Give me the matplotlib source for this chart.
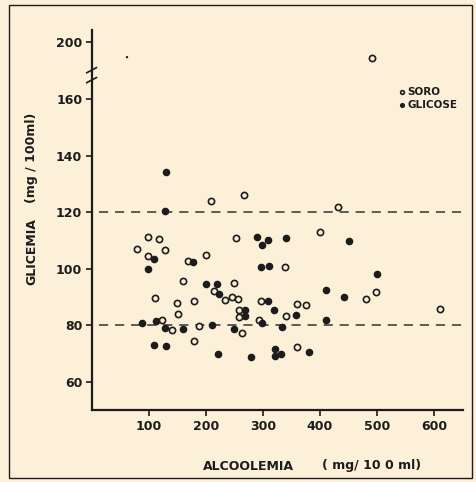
import numpy as np
import matplotlib
matplotlib.use("Agg")
import matplotlib.pyplot as plt
from matplotlib.patches import Rectangle
from matplotlib.lines import Line2D

# ---------------- data ----------------
soro_x = [208.8, 267.2, 98.8, 118.1, 79.5, 128.1, 98.8, 168.4, 199.5, 252.1,
          159.6, 249.6, 214.4, 232.8, 245.1, 255.6, 110.2, 148.6, 179.8, 296.8,
          258.4, 150.4, 258.4, 123.3, 139.5, 188.2, 262.8, 179.3, 293.0, 432.1,
          400.4, 339.1, 359.3, 375.1, 340.9, 359.1, 480.7, 499.1, 610.5, 491.2]
soro_y = [124.1, 126.0, 111.3, 110.5, 106.9, 106.5, 104.5, 102.9, 104.8, 111.0,
          95.6, 95.1, 92.1, 88.8, 89.9, 89.5, 89.6, 87.9, 88.5, 88.5,
          85.5, 83.9, 83.0, 81.8, 78.4, 79.8, 77.4, 74.5, 81.8, 122.0,
          112.9, 100.6, 87.7, 87.1, 83.3, 72.3, 89.5, 91.8, 85.7, 194.5]

glic_x = [130.7, 128.6, 109.3, 98.6, 176.8, 289.8, 299.1, 309.6, 296.0, 310.2,
          340.4, 451.4, 499.5, 199.5, 218.8, 222.8, 308.8, 319.6, 269.3, 268.4,
          111.8, 87.2, 128.4, 160.5, 210.5, 249.1, 298.2, 109.6, 129.8, 220.5,
          279.8, 321.2, 320.5, 332.5, 380.2, 411.4, 441.6, 358.2, 410.2, 332.6]
glic_y = [134.3, 120.5, 103.3, 100.0, 102.3, 111.3, 108.4, 110.2, 100.5, 100.9,
          111.0, 110.0, 98.3, 94.6, 94.7, 91.0, 88.6, 85.5, 85.6, 83.4,
          81.7, 80.7, 79.2, 78.8, 80.1, 78.8, 80.7, 73.0, 72.8, 69.8,
          68.8, 71.5, 69.1, 70.0, 70.5, 92.4, 89.9, 83.7, 81.8, 79.3]

speck_x = [61.4]
speck_y = [194.8]

ref_lines = [120, 80]
x_ticks = [100, 200, 300, 400, 500, 600]
y_ticks = [60, 80, 100, 120, 140, 160, 200]

# ---------------- broken y scale ----------------
def fwd(v):
    v = np.asarray(v, dtype=float)
    return np.where(v <= 160, v, np.where(v < 190, 160 + (v - 160) / 3.0, v - 20))

def inv(u):
    u = np.asarray(u, dtype=float)
    return np.where(u <= 160, u, np.where(u < 170, 160 + (u - 160) * 3.0, u + 20))

BG = "#FCF0D8"
INK = "#1c1c1c"

W, H = 476, 482
fig = plt.figure(figsize=(W / 100, H / 100), dpi=100, facecolor=BG)
ax = fig.add_axes([92 / W, 1 - 410 / H, (463 - 92) / W, (410 - 30) / H])
ax.set_facecolor(BG)
ax.set_yscale("function", functions=(fwd, inv))
ax.set_xlim(0, 651)
ax.set_ylim(50.1, 204.4)

for v in ref_lines:
    ax.plot([12, 651], [v, v], color="#333333", lw=1.1, dashes=(6, 4.5), zorder=1)

ax.scatter(soro_x, soro_y, s=20, facecolor=BG, edgecolor=INK, linewidth=1.2,
           zorder=3, label="SORO")
ax.scatter(glic_x, glic_y, s=20, facecolor=INK, edgecolor=INK, linewidth=1.0,
           zorder=3, label="GLICOSE")
ax.scatter(speck_x, speck_y, s=3, facecolor=INK, edgecolor="none", zorder=3)

for s in ["top", "right"]:
    ax.spines[s].set_visible(False)
for s in ["left", "bottom"]:
    ax.spines[s].set_linewidth(1.6)
    ax.spines[s].set_color(INK)

ax.set_xticks(x_ticks)
ax.set_xticklabels([str(t) for t in x_ticks])
ax.set_yticks(y_ticks)
ax.set_yticklabels([str(t) for t in y_ticks])
ax.tick_params(axis="both", direction="out", length=4, width=1.2, color=INK,
               labelsize=9, labelcolor=INK, pad=3)
for lab in ax.get_xticklabels() + ax.get_yticklabels():
    lab.set_fontweight("bold")

# axis break marks
trans = ax.get_yaxis_transform()
for uy in (167.0, 170.5):
    yv = float(inv(uy))
    ax.add_line(Line2D([-0.014, 0.012], [float(inv(uy - 1.2)), float(inv(uy + 0.6))],
                       transform=trans, color=INK, lw=1.2, clip_on=False))

leg = ax.legend(loc="upper left", bbox_to_anchor=(0.815, 0.865), frameon=False,
                fontsize=7.5, handlelength=0.5, handletextpad=0.25,
                labelspacing=0.35, borderpad=0, markerscale=0.6)
for t in leg.get_texts():
    t.set_fontweight("bold")
    t.set_color(INK)

fig.text(203 / W, 1 - 466 / H, "ALCOOLEMIA", fontsize=9, fontweight="bold",
         color=INK, ha="left", va="center")
fig.text(322 / W, 1 - 466 / H, "( mg/ 10 0 ml)", fontsize=9, fontweight="bold",
         color=INK, ha="left", va="center")
fig.text(32 / W, 1 - 252 / H, "GLICEMIA", fontsize=9, fontweight="bold",
         color=INK, ha="center", va="center", rotation=90)
fig.text(32 / W, 1 - 158 / H, "(mg / 100ml)", fontsize=9, fontweight="bold",
         color=INK, ha="center", va="center", rotation=90)

fig.add_artist(Rectangle((9 / W, 1 - 478 / H), (472 - 9) / W, (478 - 5) / H,
                         transform=fig.transFigure, fill=False, lw=1.0,
                         edgecolor=INK))

fig.savefig("out.png", dpi=100, facecolor=BG)
